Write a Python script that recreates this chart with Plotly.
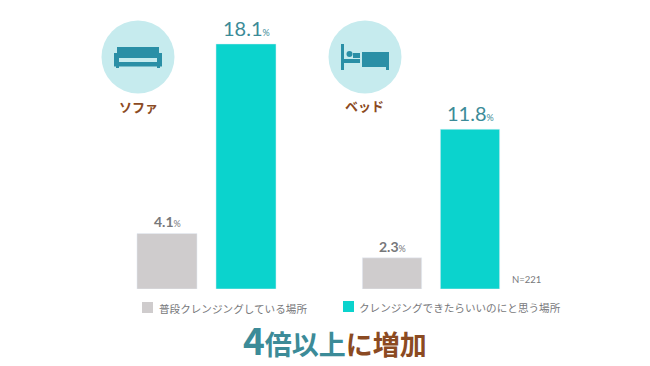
import plotly.graph_objects as go

usual_name = "普段クレンジングしている場所"
wish_name = "クレンジングできたらいいのにと思う場所"
panels = ["ソファ", "ベッド"]
usual = [4.1, 2.3]
wish = [18.1, 11.8]
note = "N=221"

W, H = 650, 366
GREY, AQUA = "#cfcccd", "#0bd3cd"
TEAL, BROWN, ICON, DISC = "#3c8b98", "#8b4a22", "#2a8fa6", "#c6ebee"
FONT = "Lato, 'Noto Sans CJK JP', sans-serif"
JP = "'Noto Sans CJK JP', sans-serif"


def fx(v):
    return v / W


def fy(v):
    return 1 - v / H


def label(v, bold=False):
    num = f"<b>{v}</b>" if bold else f"{v}"
    return f"{num}<span style=\"font-size:9px\">%</span>"


fig = go.Figure()
annotations = []
axes = ["x", "x2"]
for i, ax in enumerate(axes):
    for vals, suffix, name, color, size, tcolor, bold, shift in (
        (usual, " 普段", usual_name, GREY, 14, "#77787b", True, 1),
        (wish, " 希望", wish_name, AQUA, 20, TEAL, False, 2),
    ):
        cat = panels[i] + suffix
        fig.add_trace(go.Bar(x=[cat], y=[vals[i]], name=name, xaxis=ax, yaxis="y",
                             marker_color=color, showlegend=False, width=0.76))
        annotations.append(dict(x=cat, y=vals[i], xref=ax, yref="y", text=label(vals[i], bold),
                                showarrow=False, xanchor="center", yanchor="bottom", yshift=shift,
                                font=dict(size=size, color=tcolor, family=FONT)))

shapes = []


def rect(x0, y0, x1, y1, color=ICON):
    shapes.append(dict(type="rect", xref="paper", yref="paper", x0=fx(x0), x1=fx(x1),
                       y0=fy(y1), y1=fy(y0), fillcolor=color, line_width=0, layer="above"))


def disc(cx, cy, r, color):
    shapes.append(dict(type="circle", xref="paper", yref="paper", x0=fx(cx - r), x1=fx(cx + r),
                       y0=fy(cy + r), y1=fy(cy - r), fillcolor=color, line_width=0, layer="below"))


disc(138, 57, 36.5, DISC)
disc(365, 57, 36.5, DISC)
# sofa
rect(117, 47, 159, 58)
rect(114, 53, 119, 66)
rect(157, 53, 162, 66)
rect(114, 62, 162, 66.5)
rect(116, 66, 119, 68)
rect(157, 66, 160, 68)
# bed
rect(341, 44, 344, 70)
rect(344, 59, 360, 63)
rect(353, 53, 360, 58)
disc(349.5, 54, 3, ICON)
shapes[-1]["layer"] = "above"
rect(362, 52, 389, 67)
rect(386, 66, 389, 70)
# key swatches
rect(142, 302, 153, 313, GREY)
rect(343, 301, 354, 312, AQUA)


def note_text(x, y, text, size, color, family=JP, anchor="center"):
    annotations.append(dict(x=fx(x), y=fy(y), xref="paper", yref="paper", text=text, showarrow=False,
                            xanchor=anchor, yanchor="middle",
                            font=dict(size=size, color=color, family=family)))


note_text(138, 106, f"<b>{panels[0]}</b>", 13, BROWN)
note_text(364, 105, f"<b>{panels[1]}</b>", 13, BROWN)
note_text(510, 279, note, 9.5, "#77787b", FONT, "left")
note_text(157, 308, usual_name, 10.6, "#77787b", JP, "left")
note_text(357, 307, wish_name, 10.6, "#77787b", JP, "left")
note_text(335, 339,
          f"<span style=\"color:{TEAL}\"><b><span style=\"font-size:37px\">4</span>倍以上</b></span>"
          f"<b>に増加</b>", 27, BROWN)

fig.update_layout(
    width=W, height=H, margin=dict(l=0, r=0, t=0, b=0), paper_bgcolor="white", plot_bgcolor="white",
    barmode="overlay", shapes=shapes, annotations=annotations, showlegend=False,
    font=dict(family=JP),
    xaxis=dict(domain=[fx(127.5), fx(285.5)], visible=False, fixedrange=True),
    xaxis2=dict(domain=[fx(353), fx(509)], visible=False, fixedrange=True),
    yaxis=dict(domain=[fy(289), 1], range=[0, 289 / 13.54], visible=False, fixedrange=True),
)
fig.write_html("out.html", post_script="document.body.style.margin='0';",
               config={"displayModeBar": False})
